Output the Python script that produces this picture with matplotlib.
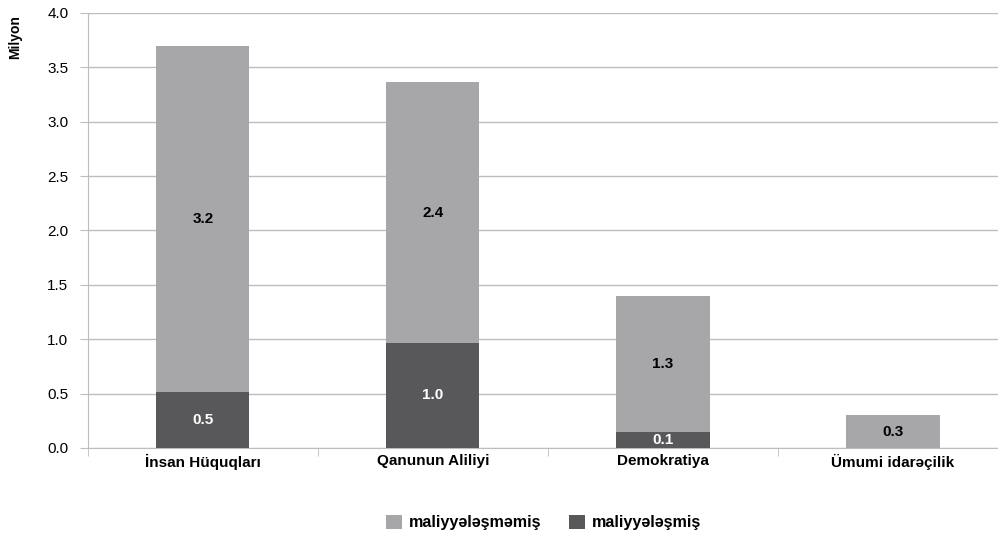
import matplotlib.pyplot as plt
import numpy as np

plt.rcParams['font.family'] = ['Liberation Sans', 'DejaVu Sans']

kateqoriyalar = ['İnsan Hüquqları', 'Qanunun Aliliyi', 'Demokratiya', 'Ümumi idarəçilik']
maliyyelesmis = [0.515, 0.965, 0.145, 0.0]
maliyyelesmemis = [3.185, 2.40, 1.25, 0.30]
etiket_alt = ['0.5', '1.0', '0.1', '']
etiket_ust = ['3.2', '2.4', '1.3', '0.3']

acik = '#a7a7a9'
koyu = '#58585a'

fig = plt.figure(figsize=(9.98, 5.41), dpi=100)
ax = fig.add_axes([0.088, 0.172, 0.922, 0.804])

x = np.arange(len(kateqoriyalar))
w = 0.405
ax.bar(x, maliyyelesmis, w, color=koyu, label='maliyyələşmiş', zorder=3)
ax.bar(x, maliyyelesmemis, w, bottom=maliyyelesmis, color=acik, label='maliyyələşməmiş', zorder=3)

for i in range(len(x)):
    if etiket_alt[i]:
        ax.text(x[i], maliyyelesmis[i] / 2, etiket_alt[i], ha='center', va='center',
                color='white', fontsize=11, fontweight='bold', zorder=4)
    ax.text(x[i], maliyyelesmis[i] + maliyyelesmemis[i] / 2, etiket_ust[i], ha='center',
            va='center', color='black', fontsize=11, fontweight='bold', zorder=4)

ax.set_xlim(-0.5, 3.5)
ax.set_ylim(0, 4.0)
ax.set_yticks(np.arange(0, 4.01, 0.5))
ax.set_yticklabels(['%.1f' % v for v in np.arange(0, 4.01, 0.5)])
ax.yaxis.grid(True, color='#bdbdbd', linewidth=1, zorder=0)

ax.set_xticks(x)
ax.set_xticklabels(kateqoriyalar, fontsize=11, fontweight='bold')
ax.set_xticks(np.arange(-0.5, 3.6, 1), minor=True)
ax.tick_params(axis='x', which='major', length=0, pad=4)
ax.tick_params(axis='x', which='minor', length=6, color='#bdbdbd', direction='out')
ax.tick_params(axis='y', length=6, color='#bdbdbd', labelsize=11, pad=8)

for s in ['top', 'right']:
    ax.spines[s].set_visible(False)
ax.spines['left'].set_color('#bdbdbd')
ax.spines['bottom'].set_color('#bdbdbd')

ax.set_ylabel('Milyon', fontsize=10, fontweight='bold')
ax.yaxis.set_label_coords(-0.071, 0.945)

h, l = ax.get_legend_handles_labels()
fig.legend(h[::-1], l[::-1], loc='center', bbox_to_anchor=(0.5446, 0.034), ncol=2, frameon=False,
           prop={'weight': 'bold', 'size': 11.6}, handlelength=1.0, handleheight=1.0,
           columnspacing=1.7, handletextpad=0.4)

fig.savefig('out.png', dpi=100)
